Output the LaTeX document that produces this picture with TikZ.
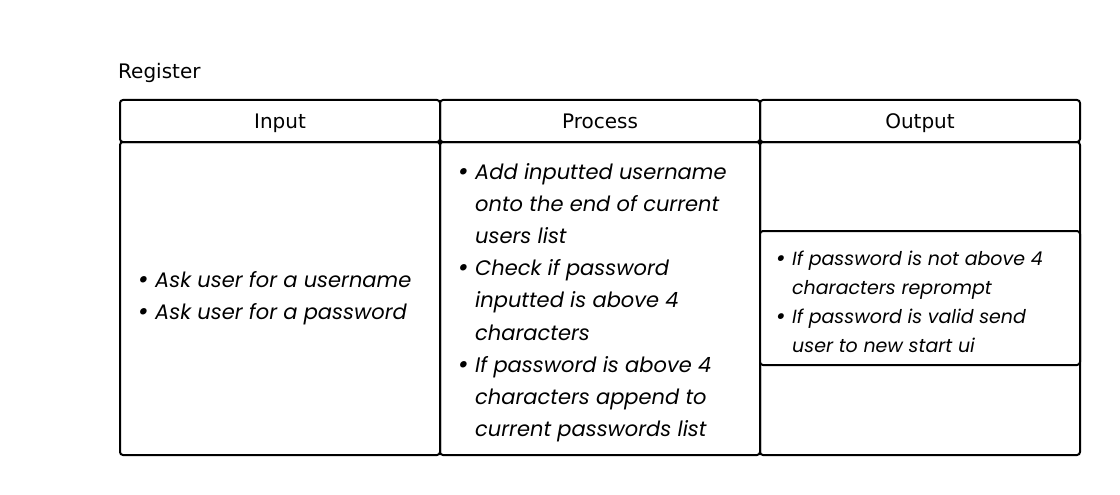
\documentclass[tikz,border=0pt]{standalone}
\usepackage{fontspec}
\setmainfont{Poppins}
\newfontfamily\headfont{DejaVu Sans}
\tikzset{
  cell/.style={draw=black, line width=2pt, rounded corners=3pt},
  headtext/.style={font=\headfont\fontsize{20}{22}\selectfont, inner sep=0pt, anchor=base},
  bodytext/.style={font=\itshape\fontsize{21}{32.2}\selectfont, inner sep=0pt, align=left, anchor=north west},
  smalltext/.style={font=\itshape\fontsize{19}{29}\selectfont, inner sep=0pt, align=left, anchor=north west},
}
\newcommand{\bul}{\llap{\raisebox{-1.2pt}{\scalebox{1.25}{\textbullet}}\hspace{6.5pt}}}
\begin{document}
\begin{tikzpicture}[x=1pt, y=-1pt]
\useasboundingbox (0,0) rectangle (1120,495);
% cells
\draw[cell] (120,100) rectangle (440,142);
\draw[cell] (440,100) rectangle (760,142);
\draw[cell] (760,100) rectangle (1080,142);
\draw[cell] (120,142) rectangle (440,455);
\draw[cell] (440,142) rectangle (760,455);
\draw[cell] (760,142) rectangle (1080,455);
\draw[cell, fill=white] (760,231) rectangle (1080,365);
% titles
\node[headtext, anchor=base west] (title) at (118,78) {Register};
\node[headtext] (hin) at (280,128.5) {Input};
\node[headtext] (hpr) at (600,128.5) {Process};
\node[headtext] (hout) at (920,128.5) {Output};
% bodies
\node[bodytext] (bin) at (155,271) {\bul Ask user for a username\\\bul Ask user for a password};
\node[bodytext] (bpr) at (475,163) {\bul Add inputted username\\onto the end of current\\users list\\\bul Check if password\\inputted is above 4\\characters\\\bul If password is above 4\\characters append to\\current passwords list};
\node[smalltext] (bout) at (792,250.5) {\bul If password is not above 4\\characters reprompt\\\bul If password is valid send\\user to new start ui};
\end{tikzpicture}
\end{document}
